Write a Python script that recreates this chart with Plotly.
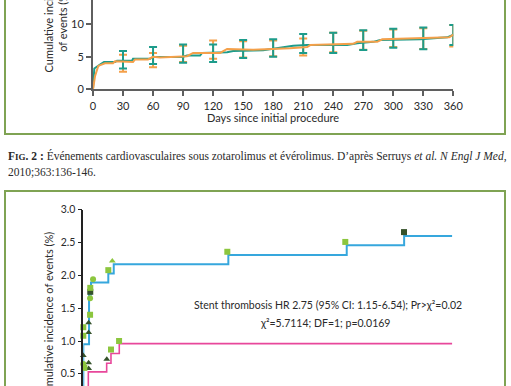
import plotly.graph_objects as go

W, H = 511, 386
def px(x): return x / W
def py(y): return 1 - y / H

# ---------------- Top chart data (days, %) ----------------
teal_days = [0, 1.3, 7, 11, 22, 24, 39, 40, 57, 60, 89, 94, 107, 109, 134, 140, 170, 187, 200, 214, 254, 264, 280, 287, 327, 354, 360]
teal_vals = [0, 3.2, 3.8, 4.2, 4.2, 4.4, 4.4, 4.7, 4.7, 4.97, 4.97, 5.2, 5.2, 5.6, 5.7, 5.9, 6.0, 6.4, 6.7, 6.8, 6.8, 7.1, 7.3, 7.6, 7.7, 8.0, 8.4]
orange_days = [0, 2, 5.3, 10, 12, 20, 22, 40, 42, 55, 60, 67, 94, 100, 127, 134, 160, 197, 214, 217, 260, 264, 284, 289, 356, 360]
orange_vals = [0, 2.0, 3.6, 3.8, 4.0, 4.0, 4.3, 4.2, 4.6, 4.6, 5.0, 4.9, 5.1, 5.6, 5.6, 6.2, 6.1, 6.3, 6.5, 6.8, 7.0, 7.3, 7.3, 7.7, 8.0, 8.4]

bar_days = [30, 60, 90, 120, 150, 180, 210, 240, 270, 300, 330, 360]
teal_low = [3.2, 3.9, 4.1, 4.2, 4.8, 5.0, 5.6, 5.6, 6.05, 6.4, 6.15, 6.8]
teal_high = [5.9, 6.5, 6.9, 6.9, 7.6, 7.7, 8.5, 8.7, 9.1, 9.3, 9.5, 9.9]
orange_low = [2.7, 3.4, 4.2, 4.7, 4.9, 5.1, 5.2, 5.7, 6.1, 6.5, 6.2, 6.6]
orange_high = [5.3, 5.6, 6.7, 7.5, 7.4, 7.5, 7.8, 8.7, 9.0, 9.2, 9.4, 9.9]

x_ticks_top = [0, 30, 60, 90, 120, 150, 180, 210, 240, 270, 300, 330, 360]
y_ticks_top = [0, 5, 10, 15]

# ---------------- Bottom chart data (days, %) ----------------
blue_days = [0, 0, 5.6, 7.5, 24.4, 29.7, 141.5, 257, 313, 360]
blue_vals = [0, 0.95, 1.71, 1.89, 2.03, 2.17, 2.31, 2.46, 2.60, 2.60]
pink_days = [0, 4.9, 22.8, 27, 35.1, 360]
pink_vals = [0.2, 0.53, 0.66, 0.81, 0.96, 0.96]

sq_light_days = [0, 0, 1, 6.6, 6.8, 24.4, 140.5, 255.6, 27, 34.9, 0]
sq_light_vals = [1.21, 1.08, 0.59, 1.40, 1.81, 2.08, 2.36, 2.51, 0.87, 1.00, 0.31]
circ_days = [0, 6.6, 9.5]
circ_vals = [0.65, 1.65, 1.94]
tri_dark_days = [0, 5.2, 5.2, 5.2, 5.2, 22.9]
tri_dark_vals = [0.78, 1.13, 1.28, 0.67, 0.58, 0.72]
tri_light_days = [28.3]
tri_light_vals = [2.22]
sq_dark_days = [6.8, 312.9]
sq_dark_vals = [1.75, 2.66]

y_ticks_bottom = [0.5, 1.0, 1.5, 2.0, 2.5, 3.0]

TEAL = "#1d9c8b"
ORANGE = "#f4a04a"
BLUE = "#36a7dd"
PINK = "#e8479b"
LGREEN = "#8cc63e"
DGREEN = "#35522a"
BORDER = "#7fa353"
AXIS = "#5f5f5f"
TXT = "#2a2a2a"
SANS = "Lato"

fig = go.Figure()

fig.add_trace(go.Scatter(x=bar_days, y=orange_low, mode="markers", marker=dict(size=0.1, color=ORANGE),
                         error_y=dict(type="data", symmetric=False,
                                      array=[h - l for h, l in zip(orange_high, orange_low)],
                                      arrayminus=[0] * len(bar_days), color=ORANGE, thickness=2, width=4),
                         xaxis="x", yaxis="y", showlegend=False, hoverinfo="skip"))
fig.add_trace(go.Scatter(x=teal_days, y=teal_vals, mode="lines", line=dict(color=TEAL, width=2),
                         xaxis="x", yaxis="y", showlegend=False))
fig.add_trace(go.Scatter(x=bar_days, y=teal_low, mode="markers", marker=dict(size=0.1, color=TEAL),
                         error_y=dict(type="data", symmetric=False,
                                      array=[h - l for h, l in zip(teal_high, teal_low)],
                                      arrayminus=[0] * len(bar_days), color=TEAL, thickness=2, width=4),
                         xaxis="x", yaxis="y", showlegend=False, hoverinfo="skip"))
fig.add_trace(go.Scatter(x=orange_days, y=orange_vals, mode="lines", line=dict(color=ORANGE, width=2),
                         xaxis="x", yaxis="y", showlegend=False))

fig.add_trace(go.Scatter(x=pink_days, y=pink_vals, mode="lines", line=dict(color=PINK, width=1.6, shape="hv"),
                         xaxis="x2", yaxis="y2", showlegend=False))
fig.add_trace(go.Scatter(x=blue_days, y=blue_vals, mode="lines", line=dict(color=BLUE, width=2, shape="hv"),
                         xaxis="x2", yaxis="y2", showlegend=False))
fig.add_trace(go.Scatter(x=sq_dark_days, y=sq_dark_vals, mode="markers", cliponaxis=False,
                         marker=dict(symbol="square", size=6, color=DGREEN),
                         xaxis="x2", yaxis="y2", showlegend=False))
fig.add_trace(go.Scatter(x=tri_dark_days, y=tri_dark_vals, mode="markers", cliponaxis=False,
                         marker=dict(symbol="triangle-up", size=6, color=DGREEN),
                         xaxis="x2", yaxis="y2", showlegend=False))
fig.add_trace(go.Scatter(x=sq_light_days, y=sq_light_vals, mode="markers", cliponaxis=False,
                         marker=dict(symbol="square", size=6, color=LGREEN),
                         xaxis="x2", yaxis="y2", showlegend=False))
fig.add_trace(go.Scatter(x=circ_days, y=circ_vals, mode="markers", cliponaxis=False,
                         marker=dict(symbol="circle", size=6, color=LGREEN),
                         xaxis="x2", yaxis="y2", showlegend=False))
fig.add_trace(go.Scatter(x=tri_light_days, y=tri_light_vals, mode="markers", cliponaxis=False,
                         marker=dict(symbol="triangle-up", size=6, color=LGREEN),
                         xaxis="x2", yaxis="y2", showlegend=False))

fig.update_layout(
    width=W, height=H, autosize=False, margin=dict(l=0, r=0, t=0, b=0, pad=0, autoexpand=False),
    paper_bgcolor="white", plot_bgcolor="rgba(0,0,0,0)",
    font=dict(family=SANS, size=11, color=TXT),
    xaxis=dict(domain=[px(93), px(453.3)], range=[0, 360], tickvals=x_ticks_top,
               showline=True, linecolor=AXIS, linewidth=2, ticks="outside", ticklen=5, tickwidth=1.5,
               tickcolor=AXIS, showgrid=False, zeroline=False, anchor="y", automargin=False,
               tickfont=dict(family=SANS, size=11, color=TXT)),
    yaxis=dict(domain=[py(89.3), 1], range=[0, 89.3 / 6.5], tickvals=y_ticks_top,
               showline=True, linecolor=AXIS, linewidth=2, ticks="outside", ticklen=5, tickwidth=1.5,
               tickcolor=AXIS, showgrid=False, zeroline=False, anchor="x", automargin=False,
               tickfont=dict(family=SANS, size=11, color=TXT)),
    xaxis2=dict(domain=[px(83.3), px(452.3)], range=[0, 360], visible=False, anchor="y2", automargin=False),
    yaxis2=dict(domain=[0, py(209.8)], range=[(406.6 - 386) / 65.6, 3.0], tickvals=y_ticks_bottom,
                ticktext=["0.5", "1.0", "1.5", "2.0", "2.5", "3.0"],
                showline=True, linecolor="#222", linewidth=1.5, ticks="outside", ticklen=4, tickwidth=1.2,
                tickcolor="#222", showgrid=False, zeroline=False, anchor="x2", automargin=False,
                tickfont=dict(family=SANS, size=10.5, color=TXT)),
)

shapes = [
    dict(type="rect", xref="paper", yref="paper", x0=px(5), x1=px(505), y0=py(134), y1=py(-20),
         line=dict(color=BORDER, width=2), fillcolor="rgba(0,0,0,0)"),
    dict(type="rect", xref="paper", yref="paper", x0=px(5), x1=px(505), y0=py(420), y1=py(191),
         line=dict(color=BORDER, width=2), fillcolor="rgba(0,0,0,0)"),
]
fig.update_layout(shapes=shapes)

annotations = [
    dict(text="Cumulative incidence<br>of events (%)", textangle=-90, xref="paper", yref="paper",
         x=px(55), y=py(75), xanchor="center", yanchor="bottom", showarrow=False,
         font=dict(family=SANS, size=11, color=TXT)),
    dict(text="Days since initial procedure", xref="paper", yref="paper", x=px(272.7), y=py(118),
         xanchor="center", yanchor="middle", showarrow=False, font=dict(family=SANS, size=11, color=TXT)),
    dict(text="<b>F<span style='font-size:9px'>IG</span>. 2 :</b> Événements cardiovasculaires sous zotarolimus et évérolimus. D’après Serruys <i>et al. N Engl J Med</i>,",
         xref="paper", yref="paper", x=px(6), y=py(156), xanchor="left", yanchor="middle", showarrow=False,
         font=dict(family="Liberation Serif", size=11.5, color=TXT)),
    dict(text="2010;363:136-146.", xref="paper", yref="paper", x=px(6), y=py(171.5), xanchor="left",
         yanchor="middle", showarrow=False, font=dict(family="Liberation Serif", size=11.5, color=TXT)),
    dict(text="Cumulative incidence of events (%)", textangle=-90, xref="paper", yref="paper",
         x=px(47.7), y=py(230), xanchor="center", yanchor="top", showarrow=False,
         font=dict(family=SANS, size=11, color=TXT)),
    dict(text="Stent thrombosis HR 2.75 (95% CI: 1.15-6.54); Pr>χ²=0.02", xref="paper", yref="paper",
         x=px(328), y=py(305), xanchor="center", yanchor="middle", showarrow=False,
         font=dict(family=SANS, size=10.5, color=TXT)),
    dict(text="χ²=5.7114; DF=1; p=0.0169", xref="paper", yref="paper",
         x=px(325), y=py(323.3), xanchor="center", yanchor="middle", showarrow=False,
         font=dict(family=SANS, size=10.5, color=TXT)),
]
fig.update_layout(annotations=annotations)

fig.write_html("out.html", config={"displayModeBar": False},
               post_script="document.body.style.margin='0';document.body.style.overflow='hidden';")
